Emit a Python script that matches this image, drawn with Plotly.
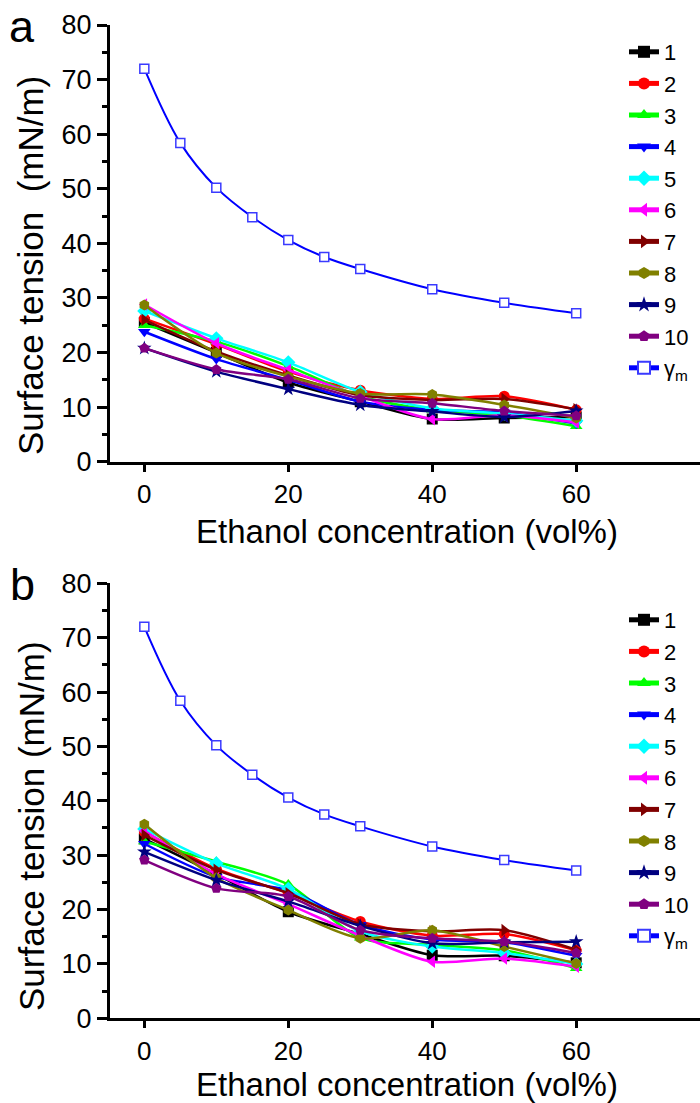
import plotly.graph_objects as go

# ---------------- data ----------------
x_conc = [0, 10, 20, 30, 40, 50, 60]
x_gm = [0, 5, 10, 15, 20, 25, 30, 40, 50, 60]
gamma_m = [72.0, 58.4, 50.2, 44.8, 40.6, 37.5, 35.3, 31.6, 29.1, 27.2]

series_names = ["1", "2", "3", "4", "5", "6", "7", "8", "9", "10"]

# panel a
a1 = [25.5, 20.0, 14.5, 11.0, 7.8, 8.0, 8.2]
a2 = [26.2, 21.5, 16.5, 13.1, 11.5, 12.0, 9.5]
a3 = [25.0, 22.0, 17.5, 12.0, 9.5, 8.5, 6.5]
a4 = [23.8, 18.8, 15.0, 11.0, 9.5, 9.0, 7.0]
a5 = [27.6, 22.6, 18.2, 12.8, 9.8, 8.8, 7.5]
a6 = [28.8, 21.7, 16.8, 12.0, 7.8, 8.5, 7.2]
a7 = [26.0, 20.2, 15.8, 12.2, 11.3, 11.5, 9.6]
a8 = [28.7, 19.9, 15.6, 12.5, 12.3, 10.4, 8.0]
a9 = [20.8, 16.5, 13.3, 10.4, 9.2, 8.2, 9.3]
a10 = [20.8, 16.9, 15.1, 11.6, 10.7, 9.3, 8.4]

# panel b
b1 = [33.0, 26.5, 19.6, 15.5, 11.6, 11.5, 10.2]
b2 = [34.3, 27.5, 23.0, 17.8, 15.2, 15.5, 12.5]
b3 = [32.5, 28.8, 24.6, 14.8, 13.5, 12.5, 9.2]
b4 = [32.1, 26.0, 23.5, 17.2, 14.5, 14.0, 11.5]
b5 = [34.8, 28.5, 23.8, 16.0, 13.2, 12.0, 10.0]
b6 = [34.5, 26.5, 21.0, 15.2, 10.4, 11.0, 9.5]
b7 = [33.7, 27.3, 23.0, 17.3, 16.0, 16.2, 12.6]
b8 = [35.7, 25.8, 19.9, 14.7, 16.2, 13.2, 10.1]
b9 = [30.6, 25.4, 21.5, 17.0, 13.8, 14.0, 14.1]
b10 = [29.1, 23.9, 22.4, 16.2, 14.7, 14.1, 12.0]

panel_a = [a1, a2, a3, a4, a5, a6, a7, a8, a9, a10]
panel_b = [b1, b2, b3, b4, b5, b6, b7, b8, b9, b10]

x_ticks = [0, 20, 40, 60]
y_ticks = [0, 10, 20, 30, 40, 50, 60, 70, 80]

# ---------------- style ----------------
colors = ["#000000", "#FF0000", "#00FF00", "#0000FF", "#00FFFF",
          "#FF00FF", "#800000", "#808000", "#000080", "#800080"]
symbols = ["square", "circle", "triangle-up", "triangle-down", "diamond",
           "triangle-left", "triangle-right", "hexagon", "star", "pentagon"]
gm_color = "#0000FF"
FONT = "Liberation Sans, Arial, sans-serif"

W, H = 700, 1103
def px_x(p):
    return p / W
def px_y(p):
    return 1 - p / H

x_dom = [px_x(110), 1.0]
ya_dom = [px_y(461.7), px_y(25)]
yb_dom = [px_y(1018.3), px_y(583.3)]
x_range = [-4.77, 77.2]
y_range = [0, 80]

fig = go.Figure()

def add_panel(values, xa, ya, legend):
    fig.add_trace(go.Scatter(
        x=x_gm, y=gamma_m, name="γ<sub>m</sub>", mode="lines+markers",
        line=dict(color=gm_color, width=2, shape="spline", smoothing=1.0),
        marker=dict(symbol="square", size=9, color="white",
                    line=dict(color="#3a3aff", width=1.5)),
        xaxis=xa, yaxis=ya, legend=legend, legendrank=1100))
    for i, vals in enumerate(values):
        fig.add_trace(go.Scatter(
            x=x_conc, y=vals, name=series_names[i], mode="lines+markers",
            line=dict(color=colors[i], width=2.5, shape="spline", smoothing=0.8),
            marker=dict(symbol=symbols[i], size=11, color=colors[i],
                        line=dict(width=0)),
            xaxis=xa, yaxis=ya, legend=legend, legendrank=1000 + i))

add_panel(panel_a, "x", "y", "legend")
add_panel(panel_b, "x2", "y2", "legend2")

ytickfont = dict(family=FONT, size=27, color="black")
xtickfont = dict(family=FONT, size=26, color="black")

def xaxis_main(anchor):
    return dict(domain=x_dom, range=x_range, anchor=anchor,
                tickmode="array", tickvals=x_ticks, ticks="outside",
                ticklen=7, tickwidth=3, tickcolor="black",
                showline=True, linewidth=3, linecolor="black",
                showgrid=False, zeroline=False, tickfont=xtickfont,
                automargin=False)

def xaxis_top(overlay, anchor):
    return dict(domain=x_dom, range=x_range, anchor=anchor, overlaying=overlay,
                side="top", tickmode="array", tickvals=x_ticks,
                ticks="inside", ticklen=10, tickwidth=3, tickcolor="black",
                showline=True, linewidth=3, linecolor="black",
                showticklabels=False, showgrid=False, zeroline=False,
                automargin=False)

def yaxis_main(dom, anchor):
    return dict(domain=dom, range=y_range, anchor=anchor,
                tickmode="array", tickvals=y_ticks, ticks="outside",
                ticklen=10, tickwidth=3, tickcolor="black",
                minor=dict(dtick=5, tick0=0, ticks="outside", ticklen=5,
                           tickwidth=2.5, tickcolor="black", showgrid=False),
                showline=True, linewidth=3, linecolor="black",
                showgrid=False, zeroline=False, tickfont=ytickfont,
                automargin=False)

def yaxis_right(dom, overlay, anchor):
    return dict(domain=dom, range=y_range, anchor=anchor, overlaying=overlay,
                side="right", tickmode="array", tickvals=y_ticks,
                ticks="inside", ticklen=7, tickwidth=3, tickcolor="black",
                showline=False, showticklabels=False, showgrid=False,
                zeroline=False, automargin=False)

legend_style = dict(font=dict(family=FONT, size=22, color="black"),
                    bgcolor="rgba(0,0,0,0)", borderwidth=0,
                    xanchor="left", yanchor="top", traceorder="normal",
                    itemsizing="constant")

fig.update_layout(
    width=W, height=H,
    margin=dict(l=0, r=0, t=0, b=0),
    paper_bgcolor="white", plot_bgcolor="white",
    font=dict(family=FONT, color="black"),
    xaxis=xaxis_main("y"),
    yaxis=yaxis_main(ya_dom, "x"),
    xaxis2=xaxis_main("y2"),
    yaxis2=yaxis_main(yb_dom, "x2"),
    xaxis3=xaxis_top("x", "y"),
    yaxis3=yaxis_right(ya_dom, "y", "x"),
    xaxis4=xaxis_top("x2", "y2"),
    yaxis4=yaxis_right(yb_dom, "y2", "x2"),
    legend=dict(x=px_x(624), y=px_y(31), **legend_style),
    legend2=dict(x=px_x(624), y=px_y(599), **legend_style),
    showlegend=True,
)

title_font = dict(family=FONT, size=35, color="black")
xtitle_font = dict(family=FONT, size=33, color="black")
annotations = [
    dict(text="a", x=px_x(22), y=px_y(26), font=dict(family=FONT, size=45, color="black")),
    dict(text="b", x=px_x(22), y=px_y(584), font=dict(family=FONT, size=45, color="black")),
    dict(text="Surface tension  (mN/m)", x=px_x(31), y=px_y(266), textangle=-90, font=title_font),
    dict(text="Surface tension (mN/m)", x=px_x(31), y=px_y(826), textangle=-90, font=title_font),
    dict(text="Ethanol concentration (vol%)", x=px_x(407), y=px_y(531), font=xtitle_font),
    dict(text="Ethanol concentration (vol%)", x=px_x(407), y=px_y(1084), font=xtitle_font),
]
for ann in annotations:
    ann.update(xref="paper", yref="paper", showarrow=False,
               xanchor="center", yanchor="middle")
fig.update_layout(annotations=annotations)

fig.write_html(
    "out.html",
    config={"displayModeBar": False},
    post_script="document.body.style.margin='0px';document.body.style.overflow='hidden';",
)
